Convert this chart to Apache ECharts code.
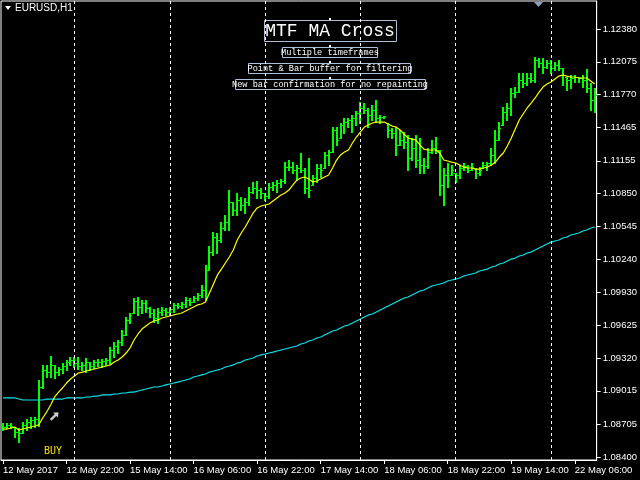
<!DOCTYPE html>
<html>
<head>
<meta charset="utf-8">
<script src="https://cdn.jsdelivr.net/npm/echarts@6/dist/echarts.min.js"></script>
<style>html,body{margin:0;padding:0;background:#000;}#c{width:640px;height:480px;}</style>
</head>
<body>
<div id="c"></div>
<script>
// ---- Data (EURUSD H1) ----
const days = ['12 May','15 May','16 May','17 May','18 May','19 May','22 May'];
const dayFirstHour = [6,0,0,0,0,0,0];
const dayLastHour  = [23,23,23,23,23,23,11];
const xTickLabels = ['12 May 2017','12 May 22:00','15 May 14:00','16 May 06:00','16 May 22:00',
  '17 May 14:00','18 May 06:00','18 May 22:00','19 May 14:00','22 May 06:00'];
const yTickLabels = ['1.08400','1.08705','1.09015','1.09320','1.09625','1.09930','1.10240',
  '1.10545','1.10850','1.11155','1.11465','1.11770','1.12075','1.12380'];
const separatorDays = ['15 May 00:00','16 May 00:00','17 May 00:00','18 May 00:00','19 May 00:00','22 May 00:00'];

const openP = [1.08688,1.08679,1.08698,1.08679,1.08632,1.08623,1.08698,1.08725,1.08744,1.08753,
1.09051,1.09209,1.09190,1.09256,1.09190,1.09218,1.09246,1.09283,1.09302,1.09274,
1.09246,1.09256,1.09283,1.09246,1.09283,1.09283,1.09293,1.09302,1.09395,1.09432,
1.09469,1.09535,1.09674,1.09739,1.09851,1.09795,1.09832,1.09786,1.09739,1.09693,
1.09748,1.09767,1.09748,1.09776,1.09814,1.09804,1.09823,1.09860,1.09841,1.09879,
1.09907,1.09953,1.10139,1.10306,1.10446,1.10418,1.10530,1.10585,1.10771,1.10697,
1.10790,1.10744,1.10771,1.10864,1.10902,1.10883,1.10855,1.10827,1.10911,1.10930,
1.10948,1.10967,1.11097,1.11097,1.11069,1.11088,1.11069,1.10902,1.10930,1.10995,
1.11088,1.11088,1.11209,1.11236,1.11441,1.11367,1.11488,1.11515,1.11534,1.11553,
1.11599,1.11646,1.11627,1.11581,1.11627,1.11553,1.11562,1.11506,1.11441,1.11413,
1.11302,1.11348,1.11329,1.11181,1.11274,1.11162,1.11116,1.11106,1.11236,1.11274,
1.11255,1.10930,1.11023,1.11023,1.11041,1.11023,1.11088,1.11106,1.11069,1.11088,
1.11041,1.11088,1.11116,1.11134,1.11209,1.11348,1.11488,1.11608,1.11646,1.11785,
1.11794,1.11906,1.11878,1.11925,1.11906,1.12092,1.12064,1.12027,1.12064,1.12018,
1.12046,1.12018,1.11934,1.11906,1.11925,1.11934,1.11925,1.11906,1.11832,1.11720];

const highP = [1.08716,1.08716,1.08716,1.08679,1.08670,1.08725,1.08753,1.08772,1.08772,1.09116,
1.09256,1.09256,1.09339,1.09256,1.09237,1.09274,1.09302,1.09330,1.09330,1.09330,
1.09283,1.09321,1.09283,1.09302,1.09311,1.09311,1.09321,1.09423,1.09469,1.09488,
1.09581,1.09702,1.09739,1.09879,1.09888,1.09860,1.09860,1.09795,1.09776,1.09786,
1.09795,1.09786,1.09795,1.09832,1.09832,1.09841,1.09888,1.09879,1.09897,1.09925,
1.10000,1.10186,1.10362,1.10492,1.10483,1.10585,1.10651,1.10883,1.10771,1.10855,
1.10818,1.10809,1.10911,1.10957,1.10967,1.10902,1.10855,1.10948,1.10957,1.10976,
1.10985,1.11143,1.11162,1.11143,1.11116,1.11227,1.11088,1.11181,1.11023,1.11125,
1.11125,1.11236,1.11255,1.11469,1.11469,1.11506,1.11553,1.11553,1.11581,1.11618,
1.11701,1.11692,1.11646,1.11674,1.11720,1.11581,1.11571,1.11506,1.11460,1.11469,
1.11441,1.11422,1.11395,1.11367,1.11395,1.11367,1.11181,1.11274,1.11348,1.11376,
1.11255,1.11088,1.11134,1.11116,1.11041,1.11116,1.11134,1.11116,1.11134,1.11088,
1.11097,1.11143,1.11143,1.11274,1.11441,1.11515,1.11655,1.11692,1.11832,1.11841,
1.11971,1.11971,1.11971,1.11971,1.12120,1.12111,1.12111,1.12092,1.12092,1.12073,
1.12092,1.12018,1.11934,1.11953,1.11953,1.11934,1.11953,1.12008,1.11878,1.11832];

const lowP = [1.08651,1.08670,1.08670,1.08586,1.08539,1.08623,1.08651,1.08670,1.08679,1.08688,
1.09042,1.09144,1.09144,1.09135,1.09163,1.09181,1.09209,1.09256,1.09237,1.09218,
1.09209,1.09190,1.09209,1.09228,1.09246,1.09237,1.09256,1.09274,1.09330,1.09367,
1.09442,1.09535,1.09646,1.09739,1.09721,1.09739,1.09748,1.09702,1.09655,1.09646,
1.09721,1.09721,1.09721,1.09748,1.09786,1.09786,1.09795,1.09814,1.09841,1.09860,
1.09888,1.09860,1.10139,1.10279,1.10297,1.10399,1.10511,1.10511,1.10651,1.10651,
1.10697,1.10669,1.10744,1.10855,1.10809,1.10809,1.10790,1.10809,1.10883,1.10864,
1.10911,1.10948,1.11069,1.11041,1.10976,1.11050,1.10855,1.10818,1.10930,1.10957,
1.11004,1.11088,1.11116,1.11236,1.11302,1.11367,1.11413,1.11469,1.11422,1.11488,
1.11506,1.11599,1.11469,1.11534,1.11515,1.11506,1.11553,1.11376,1.11367,1.11209,
1.11302,1.11274,1.11069,1.11162,1.11097,1.11041,1.11041,1.11088,1.11227,1.11227,
1.10837,1.10744,1.10911,1.11023,1.10957,1.10995,1.11069,1.11050,1.11069,1.10995,
1.11023,1.11088,1.11069,1.11116,1.11134,1.11348,1.11488,1.11534,1.11581,1.11748,
1.11794,1.11841,1.11860,1.11887,1.11887,1.12027,1.11971,1.12018,1.11971,1.11999,
1.11999,1.11860,1.11813,1.11832,1.11887,1.11887,1.11841,1.11794,1.11627,1.11608];

const closeP = [1.08679,1.08698,1.08688,1.08632,1.08623,1.08698,1.08725,1.08744,1.08753,1.09051,
1.09209,1.09190,1.09256,1.09190,1.09218,1.09246,1.09283,1.09302,1.09274,1.09246,
1.09256,1.09283,1.09246,1.09283,1.09283,1.09293,1.09302,1.09395,1.09432,1.09469,
1.09535,1.09674,1.09721,1.09851,1.09795,1.09832,1.09786,1.09739,1.09693,1.09748,
1.09767,1.09748,1.09776,1.09814,1.09804,1.09823,1.09860,1.09841,1.09879,1.09907,
1.09953,1.10139,1.10306,1.10446,1.10418,1.10530,1.10585,1.10771,1.10697,1.10790,
1.10744,1.10771,1.10864,1.10902,1.10883,1.10855,1.10827,1.10911,1.10930,1.10948,
1.10967,1.11097,1.11097,1.11069,1.11088,1.11069,1.10902,1.10883,1.10995,1.11088,
1.11069,1.11209,1.11236,1.11441,1.11348,1.11488,1.11515,1.11534,1.11553,1.11599,
1.11646,1.11627,1.11581,1.11627,1.11553,1.11562,1.11571,1.11441,1.11413,1.11302,
1.11348,1.11329,1.11181,1.11274,1.11162,1.11116,1.11106,1.11236,1.11274,1.11255,
1.10930,1.11023,1.10976,1.11069,1.11023,1.11088,1.11106,1.11069,1.11097,1.11041,
1.11069,1.11116,1.11134,1.11209,1.11348,1.11460,1.11608,1.11646,1.11785,1.11794,
1.11906,1.11878,1.11925,1.11906,1.12092,1.12064,1.12027,1.12064,1.12018,1.12046,
1.12018,1.11953,1.11906,1.11925,1.11934,1.11925,1.11906,1.11832,1.11720,1.11767];

const fastMA = [1.08660,1.08660,1.08670,1.08679,1.08651,1.08660,1.08670,1.08679,1.08688,1.08698,
1.08763,1.08818,1.08884,1.08958,1.09004,1.09042,1.09088,1.09125,1.09153,1.09181,
1.09190,1.09200,1.09209,1.09218,1.09228,1.09237,1.09246,1.09256,1.09283,1.09302,
1.09330,1.09367,1.09414,1.09488,1.09544,1.09590,1.09618,1.09646,1.09665,1.09674,
1.09693,1.09702,1.09711,1.09721,1.09730,1.09739,1.09758,1.09776,1.09795,1.09814,
1.09823,1.09841,1.09925,1.10009,1.10093,1.10148,1.10204,1.10260,1.10325,1.10418,
1.10483,1.10539,1.10604,1.10669,1.10716,1.10734,1.10744,1.10753,1.10781,1.10809,
1.10837,1.10855,1.10883,1.10930,1.10976,1.10995,1.11004,1.10985,1.10957,1.10967,
1.10985,1.11004,1.11023,1.11088,1.11162,1.11209,1.11236,1.11255,1.11320,1.11376,
1.11422,1.11469,1.11488,1.11506,1.11515,1.11515,1.11515,1.11497,1.11478,1.11469,
1.11441,1.11404,1.11367,1.11357,1.11348,1.11302,1.11264,1.11255,1.11255,1.11255,
1.11227,1.11162,1.11153,1.11143,1.11134,1.11116,1.11097,1.11088,1.11088,1.11078,
1.11078,1.11088,1.11097,1.11116,1.11143,1.11190,1.11227,1.11292,1.11367,1.11450,
1.11534,1.11590,1.11646,1.11692,1.11739,1.11794,1.11841,1.11869,1.11887,1.11915,
1.11943,1.11953,1.11943,1.11934,1.11934,1.11925,1.11925,1.11925,1.11897,1.11869];

const slowMA = [1.08949,1.08949,1.08949,1.08949,1.08939,1.08930,1.08930,1.08930,1.08930,1.08930,
1.08930,1.08939,1.08939,1.08939,1.08939,1.08939,1.08949,1.08949,1.08949,1.08949,
1.08949,1.08958,1.08958,1.08967,1.08967,1.08977,1.08977,1.08977,1.08986,1.08986,
1.08995,1.08995,1.09004,1.09004,1.09014,1.09023,1.09032,1.09042,1.09051,1.09051,
1.09060,1.09070,1.09079,1.09088,1.09097,1.09107,1.09116,1.09125,1.09144,1.09153,
1.09163,1.09172,1.09190,1.09200,1.09209,1.09218,1.09237,1.09246,1.09256,1.09274,
1.09283,1.09302,1.09311,1.09321,1.09339,1.09349,1.09358,1.09367,1.09376,1.09386,
1.09395,1.09404,1.09414,1.09423,1.09432,1.09451,1.09460,1.09479,1.09488,1.09507,
1.09516,1.09535,1.09553,1.09572,1.09581,1.09600,1.09618,1.09628,1.09646,1.09665,
1.09683,1.09702,1.09721,1.09730,1.09748,1.09767,1.09786,1.09804,1.09823,1.09841,
1.09860,1.09879,1.09888,1.09907,1.09925,1.09944,1.09953,1.09972,1.09990,1.10000,
1.10009,1.10018,1.10037,1.10046,1.10055,1.10065,1.10083,1.10093,1.10102,1.10111,
1.10130,1.10139,1.10148,1.10167,1.10176,1.10195,1.10204,1.10223,1.10241,1.10251,
1.10269,1.10279,1.10297,1.10306,1.10325,1.10344,1.10362,1.10381,1.10399,1.10409,
1.10418,1.10437,1.10446,1.10465,1.10474,1.10483,1.10502,1.10511,1.10530,1.10539];

const buySignalIndex = 13;
const buySignalPrice = 1.08781;

// ---- Build categories (hourly bars, weekend skipped) ----
const categories = [];
days.forEach((d, k) => {
  for (let h = dayFirstHour[k]; h <= dayLastHour[k]; h++) {
    categories.push(d + ' ' + (h < 10 ? '0' : '') + h + ':00');
  }
});
const ohlc = categories.map((c, i) => [i, openP[i], highP[i], lowP[i], closeP[i]]);
const yTickValues = yTickLabels.map(Number);

const chart = echarts.init(document.getElementById('c'), null, {renderer: 'canvas'});
const BAR = '#00ff00';
const mono = 'Liberation Mono';
const boxStroke = '#aebfd8';

const option = {
  backgroundColor: '#000',
  animation: false,
  grid: {left: 1, right: 40, top: 1, bottom: 20, show: true, borderColor: '#ffffff', borderWidth: 1, backgroundColor: '#000'},
  xAxis: {
    type: 'category', data: categories, boundaryGap: true,
    axisLine: {show: true, lineStyle: {color: '#fff', width: 1}},
    axisTick: {show: true, alignWithLabel: true, interval: (i) => i % 16 === 0, length: 4, lineStyle: {color: '#fff'}},
    axisLabel: {interval: (i) => i % 16 === 0, formatter: (v, i) => xTickLabels[Math.round(i / 16)] || v,
      align: 'left', color: '#fff', fontSize: 9.5, fontFamily: 'Liberation Sans', margin: 5},
    splitLine: {show: false}
  },
  yAxis: {
    type: 'value', position: 'right', min: 1.08372, max: 1.12641, scale: true,
    splitLine: {show: false},
    axisLine: {show: true, lineStyle: {color: '#fff'}},
    axisTick: {show: true, length: 4, customValues: yTickValues, lineStyle: {color: '#fff'}},
    axisLabel: {customValues: yTickValues, color: '#fff', fontSize: 9.5, fontFamily: 'Liberation Sans', margin: 6,
      formatter: (v) => {
        let best = yTickLabels[0], bd = 1;
        yTickLabels.forEach(l => { const d = Math.abs(Number(l) - v); if (d < bd) { bd = d; best = l; } });
        return best;
      }}
  },
  series: [
    {
      type: 'custom', name: 'EURUSD', data: ohlc, encode: {x: 0, y: [1, 2, 3, 4]},
      renderItem: (params, api) => {
        const i = api.value(0);
        const o = api.coord([i, api.value(1)]);
        const h = api.coord([i, api.value(2)]);
        const l = api.coord([i, api.value(3)]);
        const c = api.coord([i, api.value(4)]);
        const cx = Math.round(h[0]);
        const oy = Math.round(o[1]) + 0.5, cy = Math.round(c[1]) + 0.5;
        return {type: 'group', children: [
          {type: 'line', shape: {x1: cx, y1: Math.round(h[1]), x2: cx, y2: Math.round(l[1]) + 1}, style: {stroke: BAR, lineWidth: 2}},
          {type: 'line', shape: {x1: cx - 2, y1: oy, x2: cx, y2: oy}, style: {stroke: BAR, lineWidth: 1}},
          {type: 'line', shape: {x1: cx, y1: cy, x2: cx + 2, y2: cy}, style: {stroke: BAR, lineWidth: 1}}
        ]};
      },
      z: 2
    },
    {
      type: 'line', name: 'Slow MA', data: slowMA, symbol: 'none', smooth: false,
      lineStyle: {color: '#00e5ee', width: 1.2}, z: 3,
      markLine: {
        silent: true, symbol: ['none', 'none'], label: {show: false},
        lineStyle: {color: '#ffffff', type: [3, 3], width: 1},
        data: separatorDays.map(d => ({xAxis: d}))
      }
    },
    {
      type: 'line', name: 'Fast MA', data: fastMA, symbol: 'none', smooth: false,
      lineStyle: {color: '#ffff00', width: 1.2}, z: 4
    },
    {
      type: 'scatter', name: 'Buy', data: [[buySignalIndex, buySignalPrice]],
      symbol: 'path://M5,0 L10,5 L6.6,5 L6.6,13 L3.4,13 L3.4,5 L0,5 Z', symbolSize: [7, 11], symbolRotate: -45,
      itemStyle: {color: '#ffffff'}, z: 5
    }
  ],
  graphic: [
    {type: 'polygon', shape: {points: [[5, 6], [11, 6], [8, 10]]}, style: {fill: '#fff'}},
    {type: 'text', left: 15, top: 3, style: {text: 'EURUSD,H1', fill: '#fff', font: '10px Liberation Sans'}},
    {type: 'polygon', shape: {points: [[534, 2], [543, 2], [538.5, 7]]}, style: {fill: '#8fa0bf'}},
    {type: 'rect', shape: {x: 264.5, y: 20.5, width: 132, height: 21}, style: {fill: 'none', stroke: boxStroke, lineWidth: 1}},
    {type: 'text', x: 330, y: 31, style: {text: 'MTF MA Cross', fill: '#fff', font: '18px ' + mono, textAlign: 'center', textVerticalAlign: 'middle'}},
    {type: 'rect', shape: {x: 282.5, y: 47.5, width: 95, height: 10}, style: {fill: 'none', stroke: boxStroke, lineWidth: 1}},
    {type: 'text', x: 330, y: 52.5, style: {text: 'Multiple timeframes', fill: '#fff', font: '8.6px ' + mono, textAlign: 'center', textVerticalAlign: 'middle'}},
    {type: 'rect', shape: {x: 248.5, y: 63.5, width: 162, height: 10}, style: {fill: 'none', stroke: boxStroke, lineWidth: 1}},
    {type: 'text', x: 330, y: 68.5, style: {text: 'Point & Bar buffer for filtering', fill: '#fff', font: '8.6px ' + mono, textAlign: 'center', textVerticalAlign: 'middle'}},
    {type: 'rect', shape: {x: 235.5, y: 79.5, width: 190, height: 10}, style: {fill: 'none', stroke: boxStroke, lineWidth: 1}},
    {type: 'text', x: 330, y: 84.5, style: {text: 'New bar confirmation for no repainting', fill: '#fff', font: '8.6px ' + mono, textAlign: 'center', textVerticalAlign: 'middle'}},
    {type: 'rect', shape: {x: 329, y: 18, width: 2, height: 2}, style: {fill: '#fff'}},
    {type: 'rect', shape: {x: 329, y: 45, width: 2, height: 2}, style: {fill: '#fff'}},
    {type: 'rect', shape: {x: 329, y: 61, width: 2, height: 2}, style: {fill: '#fff'}},
    {type: 'rect', shape: {x: 329, y: 77, width: 2, height: 2}, style: {fill: '#fff'}},
    {type: 'text', left: 44, top: 446, style: {text: 'BUY', fill: '#f2e000', font: '10px DejaVu Sans Mono'}}
  ]
};
chart.setOption(option);
</script>
</body>
</html>
